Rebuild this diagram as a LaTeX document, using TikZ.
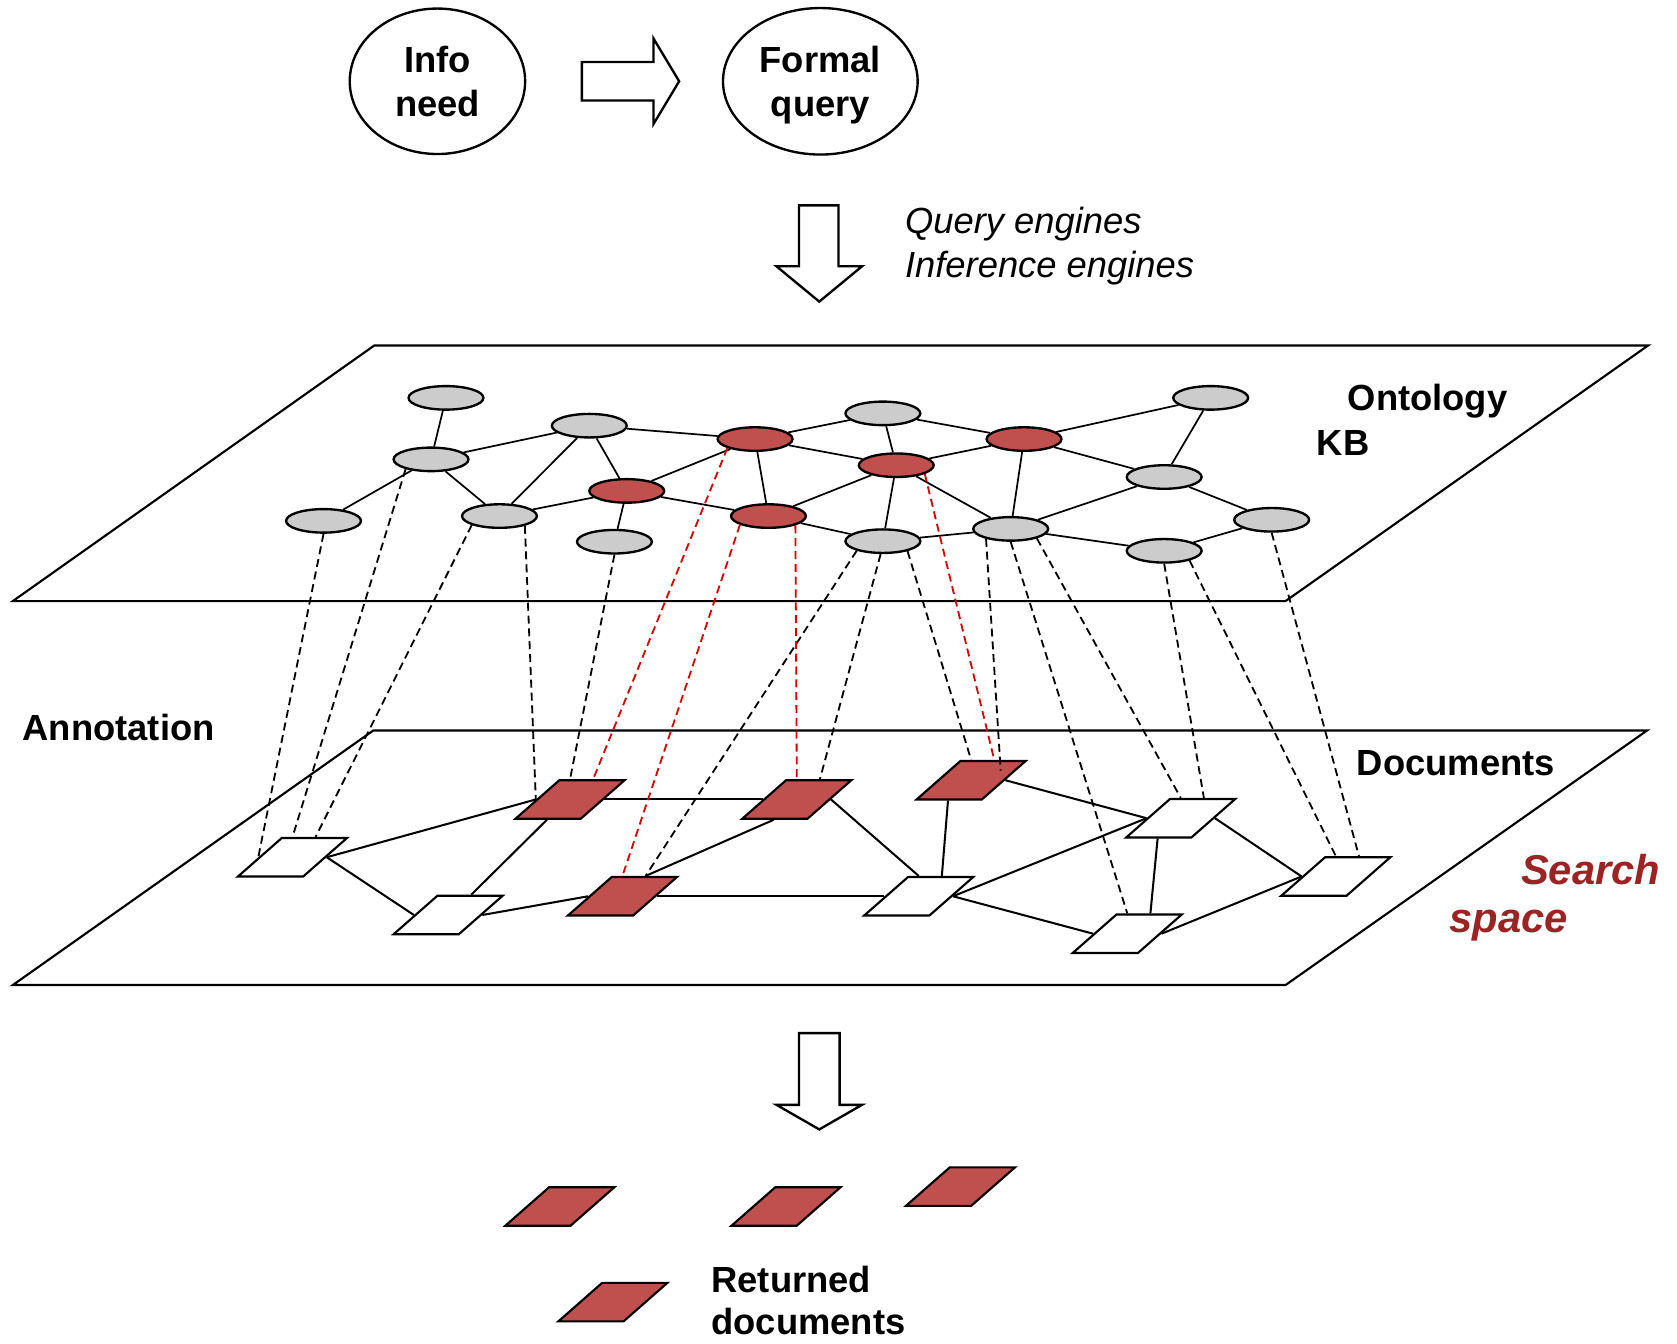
\documentclass[tikz,border=0pt]{standalone}
\usepackage{fontspec}
\setmainfont{Liberation Sans}
\usepackage{tikz}
\usetikzlibrary{shapes.geometric}

\definecolor{hitred}{RGB}{192,80,77}
\definecolor{nodegray}{RGB}{204,204,204}
\definecolor{annored}{RGB}{210,0,0}
\definecolor{searchred}{RGB}{155,35,35}

\begin{document}
\begin{tikzpicture}[x=1pt,y=-1pt,
	bubble/.style={ellipse,draw,line width=2.2pt,align=center,inner sep=0pt,text depth=0pt,font=\fontsize{34}{42}\selectfont\bfseries},
	blockarrow/.style={draw,line width=2.2pt,fill=white},
	plane/.style={draw,line width=2pt},
	concept/.style={ellipse,draw,line width=2.2pt,fill=nodegray,minimum width=70,minimum height=22,inner sep=0pt},
	hit/.style={concept,fill=hitred},
	doc/.style={trapezium,trapezium left angle=41.3,trapezium right angle=138.7,inner xsep=10pt,inner ysep=18pt,minimum width=0pt,minimum height=0pt,draw,line width=2pt,fill=white},
	hitdoc/.style={doc,fill=hitred},
	link/.style={line width=1.6pt},
	doclink/.style={line width=1.9pt},
	anno/.style={line width=1.7pt,dash pattern=on 7.5pt off 4.5pt},
	annohit/.style={anno,draw=annored},
	lbl/.style={inner sep=0pt,anchor=base west,font=\fontsize{34}{42}\selectfont\bfseries},
	engine/.style={inner sep=0pt,anchor=base west,font=\fontsize{34}{42}\selectfont\itshape},
	searchlbl/.style={inner sep=0pt,anchor=base west,text=searchred,font=\fontsize{39}{48}\selectfont\bfseries\itshape}]
	\useasboundingbox (0,0) rectangle (1568,1256);

	% query formulation
	\node[bubble,minimum width=164,minimum height=136] (info) at (409,76) {Info\\need};
	\node[bubble,minimum width=182,minimum height=137] (formal) at (767,76) {Formal\\query};
	\draw[blockarrow] (544,58) -- (611,58) -- (611,36) -- (635,76) -- (611,116) -- (611,94) -- (544,94) -- cycle;
	\draw[blockarrow] (747,192) -- (784,192) -- (784,249) -- (806,249) -- (766,282) -- (726,249) -- (747,249) -- cycle;
	\node[engine] (qeng) at (846,218) {Query engines};
	\node[engine] (ieng) at (846,259) {Inference engines};

	% the two planes
	\draw[plane] (350,323) -- (1541,323) -- (1202,562) -- (12,562) -- cycle;
	\draw[plane] (349,683) -- (1540,683) -- (1202,921) -- (12,921) -- cycle;
	\node[lbl] (onto) at (1260,384) {Ontology};
	\node[lbl] (kb) at (1231,426) {KB};
	\node[lbl] (annot) at (21,692.5) {Annotation};
	\node[lbl] (docs) at (1268.5,725.5) {Documents};
	\node[searchlbl] (search) at (1422,827) {Search};
	\node[searchlbl] (space) at (1355,872) {space};

	% ontology KB
	\node[concept] (g1) at (417,372) {};
	\node[concept] (g2) at (403,429.5) {};
	\node[concept] (g3) at (551,398) {};
	\node[concept] (g4) at (302.5,487) {};
	\node[concept] (g5) at (467,482.5) {};
	\node[concept] (g6) at (574.5,506.5) {};
	\node[concept] (g7) at (825.5,386.5) {};
	\node[concept] (g8) at (825.5,506) {};
	\node[concept] (g9) at (945,494.5) {};
	\node[concept] (g10) at (1132,372) {};
	\node[concept] (g11) at (1088.5,446) {};
	\node[concept] (g12) at (1189,486) {};
	\node[concept] (g13) at (1088.5,515) {};
	\node[hit] (r1) at (706,410.5) {};
	\node[hit] (r2) at (586,459) {};
	\node[hit] (r3) at (838,435) {};
	\node[hit] (r4) at (718.5,482.5) {};
	\node[hit] (r5) at (957.5,410.5) {};
	\foreach \a/\b in {g1/g2, g2/g3, g2/g4, g2/g5, g3/g5, g3/r2, g3/r1, g5/r2, r2/r1, r2/g6,
		r2/r4, r1/g7, r1/r4, r1/r3, r4/r3, r4/g8, g7/r5, g7/r3, r3/r5, r5/g10, r5/g11, r5/g9,
		r3/g8, r3/g9, g8/g9, g9/g11, g9/g13, g10/g11, g11/g12, g12/g13}
		\draw[link] (\a) -- (\b);

	% documents
	\node[doc] (d1) at (273.5,801.5) {};
	\node[doc] (d2) at (419,855.5) {};
	\node[doc] (d3) at (1104,765) {};
	\node[doc] (d4) at (1249,819.5) {};
	\node[doc] (d5) at (859,838) {};
	\node[doc] (d6) at (1054,873) {};
	\node[hitdoc] (m1) at (533,747.5) {};
	\node[hitdoc] (m2) at (582,838) {};
	\node[hitdoc] (m3) at (745,747.5) {};
	\node[hitdoc] (m4) at (908,729.5) {};
	\foreach \a/\b in {d1.right side/m1.left side, d1.right side/d2.left side, d2.top side/m1.bottom side,
		d2.right side/m2.left side, m1.right side/m3.left side, m2.top side/m3.bottom side,
		m2.right side/d5.left side, m3.right side/d5.north, m4.bottom side/d5.top side,
		m4.right side/d3.left side, d5.right side/d3.left side, d5.right side/d6.left side,
		d3.bottom side/d6.top side, d3.right side/d4.left side, d6.right side/d4.left side}
		\draw[doclink] (\a) -- (\b);

	% annotation links
	\foreach \a/\b in {g4.south/d1.left side, g2.201/d1.north, g5.198/d1.top side, g5.339/m1.left side,
		g6.south/m1.north, g8.200/m2.top side, g8.260/m3.top side, g8.338/m4.north, g9.340/d3.north,
		g9.south/d6.north, g13.south/d3.top side, g13.339/d4.north, g12.south/d4.top side}
		\draw[anno] (\a) -- (\b);
	\draw[anno] (g9.202) -- ([xshift=6pt,yshift=-10pt]m4.top side);
	\foreach \a/\b in {r1.198/m1.top side, r4.197/m2.north, r4.341/m3.north, r3.343/m4.top side}
		\draw[annohit] (\a) -- (\b);

	% returned documents
	\draw[blockarrow] (747,966) -- (785,966) -- (785,1033) -- (806,1033) -- (766,1056) -- (726,1033) -- (747,1033) -- cycle;
	\node[hitdoc] (ret1) at (523.5,1128) {};
	\node[hitdoc] (ret2) at (735,1128) {};
	\node[hitdoc] (ret3) at (898,1109.5) {};
	\node[hitdoc] (ret4) at (573,1217.5) {};
	\node[lbl] (retl1) at (665,1208.5) {Returned};
	\node[lbl] (retl2) at (665,1248) {documents};
\end{tikzpicture}
\end{document}
